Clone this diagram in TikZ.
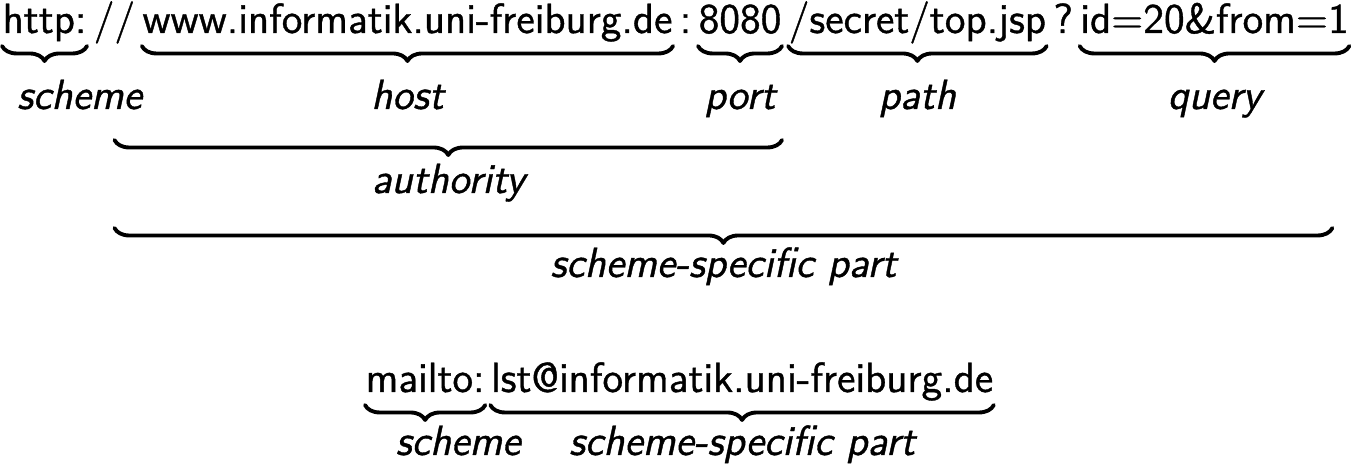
\documentclass[tikz,border=0pt]{standalone}
\usepackage{fontspec}
\setsansfont[FakeBold=.9]{Latin Modern Sans}
\usetikzlibrary{positioning,decorations.pathreplacing,calc}
\begin{document}
\begin{tikzpicture}[line join=round, line cap=round,
	seg/.style={inner sep=0pt, font=\fontsize{12}{14}\selectfont\sffamily},
	lbl/.style={inner sep=0pt, anchor=base, font=\fontsize{12}{14}\selectfont\sffamily\itshape},
	ubrace/.style={decorate, decoration={brace, mirror, amplitude=.15cm, raise=#1}, line width=1.1pt},
	ubrace/.default=.13cm]
	\def\gap{.06cm} \def\lbldown{.76cm} % Abstaende
	\useasboundingbox (0,0) rectangle (13.65,-4.66);
	
	% http-URI
	\node[seg, anchor=base west] (http) at (.02,-.33) {http:};
	\node[seg, base right=\gap of http] (slashes) {//};
	\node[seg, base right=\gap of slashes] (host) {www.informatik.uni-freiburg.de};
	\node[seg, base right=\gap of host] (colon) {:};
	\node[seg, base right=\gap of colon] (port) {8080};
	\node[seg, base right=\gap of port] (path) {/secret/top.jsp};
	\node[seg, base right=\gap of path] (qmark) {?};
	\node[seg, base right=\gap of qmark] (query) {id=20\&from=1};
	
	\draw[ubrace] (http.base west)--(http.base east);
	\draw[ubrace] (host.base west)--(host.base east);
	\draw[ubrace] (port.base west)--(port.base east);
	\draw[ubrace] (path.base west)--(path.base east);
	\draw[ubrace] (query.base west)--(query.base east);
	\node[lbl] (schemelbl) at ([xshift=.35cm,yshift=-\lbldown]http.base) {scheme};
	\node[lbl] (hostlbl) at ([yshift=-\lbldown]host.base) {host};
	\node[lbl] (portlbl) at ([yshift=-\lbldown]port.base) {port};
	\node[lbl] (pathlbl) at ([yshift=-\lbldown]path.base) {path};
	\node[lbl] (querylbl) at ([yshift=-\lbldown]query.base) {query};
	
	\coordinate (sspend) at ([xshift=-.17cm]query.base east);
	\draw[ubrace=1.07cm] (slashes.base)--(port.base east);
	\node[lbl] (authlbl) at ($(slashes.base)!.5!(port.base east)+(0,-1.6)$) {authority};
	\draw[ubrace=1.95cm] (slashes.base)--(sspend);
	\node[lbl] (ssplbl) at ($(slashes.base)!.5!(sspend)+(0,-2.44)$) {scheme-specific part};
	
	% mailto-URI
	\node[seg, anchor=base west] (mailto) at (3.65,-3.92) {mailto:};
	\node[seg, base right=.05cm of mailto] (addr) {lst@informatik.uni-freiburg.de};
	\draw[ubrace] (mailto.base west)--(mailto.base east);
	\draw[ubrace] (addr.base west)--(addr.base east);
	\node[lbl] (mschemelbl) at ([xshift=.33cm,yshift=-.63cm]mailto.base) {scheme};
	\node[lbl] (mssplbl) at ([yshift=-.63cm]addr.base) {scheme-specific part};
\end{tikzpicture}
\end{document}
